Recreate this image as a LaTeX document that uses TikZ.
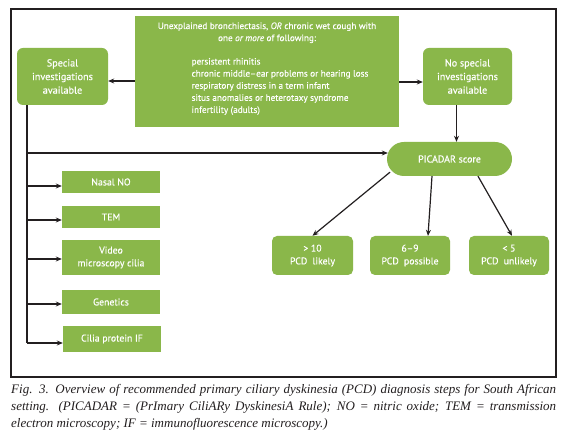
\documentclass[tikz,border=0pt]{standalone}
\usepackage{fontspec}
\setmainfont{Liberation Serif}
\newfontfamily\boxfont{PT Sans}[BoldFont=PT Sans, BoldFeatures={FakeBold=0.35}, BoldItalicFont=PT Sans Italic, BoldItalicFeatures={FakeBold=0.35}]
\usetikzlibrary{arrows.meta}
\definecolor{pcdgreen}{HTML}{8AB74A}
\definecolor{ink}{HTML}{231F20}
\begin{document}
\begin{tikzpicture}[x=1pt,y=-1pt,
  gbox/.style={fill=pcdgreen, draw=none, text=white, font=\boxfont\bfseries\fontsize{9.8}{12.8}\selectfont, align=center, inner sep=0pt},
  rbox/.style={gbox, rounded corners=6pt},
  arr/.style={draw=ink, line width=1.2pt, -{Stealth[length=6pt,width=5pt]}},
  ln/.style={draw=ink, line width=1.2pt}]
\useasboundingbox (0,0) rectangle (566,446);
\fill[white] (0,0) rectangle (566,446);
\draw[ink, line width=1.2pt] (11,9) rectangle (556,377);

% top boxes
\node[gbox, minimum width=264pt, minimum height=111pt, font=\boxfont\bfseries\fontsize{9.2}{12.1}\selectfont] (main) at (267,71.5)
 {Unexplained bronchiectasis, \textit{OR} chronic wet cough with\\
  one \textit{or more} of following:\\[12pt]
  \hspace*{26pt}\begin{tabular}{@{}l@{}}persistent rhinitis\\
  chronic middle–ear problems or hearing loss\\
  respiratory distress in a term infant\\
  situs anomalies or heterotaxy syndrome\\
  infertility (adults)\end{tabular}\\[3pt]\mbox{}};
\node[rbox, minimum width=91pt, minimum height=57pt, font=\boxfont\bfseries\fontsize{10.2}{13.6}\selectfont] (spec) at (62.5,76.5) {Special\\investigations\\available};
\node[rbox, minimum width=89pt, minimum height=57pt, font=\boxfont\bfseries\fontsize{10.2}{13.6}\selectfont] (nospec) at (467.5,76.5) {No special\\investigations\\available};

% PICADAR
\node[gbox, minimum width=125pt, minimum height=34pt, rounded corners=17pt, font=\boxfont\bfseries\fontsize{10}{12}\selectfont] (pic) at (449.5,159) {PICADAR score};

% results
\node[rbox, rounded corners=5pt, minimum width=81pt, minimum height=39pt] (r1) at (312.5,255.5) {> 10\\PCD\ \ likely};
\node[rbox, rounded corners=5pt, minimum width=80pt, minimum height=39pt] (r2) at (410,255.5) {6–9\\PCD\ \ possible};
\node[rbox, rounded corners=5pt, minimum width=80pt, minimum height=39pt] (r3) at (509,255.5) {< 5\\PCD\ \ unlikely};

% investigations list
\node[gbox, minimum width=98pt, minimum height=22pt] (nno) at (111,182) {Nasal NO};
\node[gbox, minimum width=98pt, minimum height=22pt] (tem) at (111,217) {TEM};
\node[gbox, minimum width=98pt, minimum height=35pt] (vid) at (111,257.5) {Video\\microscopy cilia};
\node[gbox, minimum width=98pt, minimum height=24pt] (gen) at (111,302) {Genetics};
\node[gbox, minimum width=98pt, minimum height=26pt] (cil) at (112,339) {Cilia protein IF};

% connectors top
\draw[arr] ([yshift=-4.5pt]main.west |- spec.east) -- ([yshift=-4.5pt]spec.east);
\draw[arr] ([yshift=-5.5pt]main.east |- nospec.west) -- ([yshift=-5.5pt]nospec.west);
\coordinate (nd) at ([xshift=-11pt]nospec.south);
\draw[arr] (nd) -- (nd |- pic.north);

% trunk
\coordinate (t0) at ([xshift=-35.5pt]spec.south);
\coordinate (ph) at ([yshift=6pt]pic.west);
\coordinate (cend) at ([yshift=-4pt]cil.west);
\draw[ln] (t0) -- (t0 |- cend);
\draw[arr] (t0 |- ph) -- ([xshift=1pt]ph);
\foreach \b/\s in {nno/-4pt, tem/-3pt, vid/-1.5pt, gen/-2pt, cil/-4pt}{
  \coordinate (aw) at ([yshift=\s]\b.west);
  \draw[arr] (t0 |- aw) -- (aw);
}

% PICADAR to results
\draw[arr] ([xshift=-59.5pt,yshift=4pt]pic.south) -- (r1.north);
\draw[arr] ([xshift=-17.5pt]pic.south) -- ([xshift=18pt]r2.north);
\draw[arr] ([xshift=28.5pt]pic.south) -- ([xshift=3pt]r3.north);

% caption
\node[anchor=north west, inner sep=0pt, text width=545pt, align=justify,
      font=\itshape\fontsize{13}{17}\selectfont, text=ink] (cap) at (11,384)
 {Fig. 3. Overview of recommended primary ciliary dyskinesia (PCD) diagnosis steps for South African\linebreak
  setting. (PICADAR = (PrImary CiliARy DyskinesiA Rule); NO = nitric oxide; TEM = transmission\linebreak
  electron microscopy; IF = immunofluorescence microscopy.)};
\end{tikzpicture}
\end{document}
